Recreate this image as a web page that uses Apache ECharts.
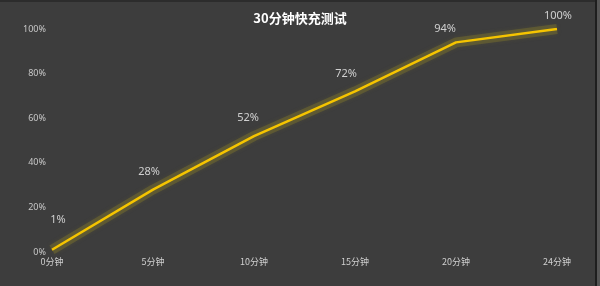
<!DOCTYPE html>
<html><head><meta charset="utf-8">
<script src="https://cdn.jsdelivr.net/npm/echarts@6/dist/echarts.min.js"></script>
<style>html,body{margin:0;padding:0;background:#3d3d3d;}#c{width:600px;height:286px;}</style>
</head><body><div id="c"></div>
<script>
const title = '30分钟快充测试';
const categories = ['0分钟','5分钟','10分钟','15分钟','20分钟','24分钟'];
const values = [1, 28, 52, 72, 94, 100];
const yTicks = [0, 20, 40, 60, 80, 100];
const labelOffsets = [[6,-12],[-4,0],[-6,0],[-9,0],[-11,4],[1,5]];

const chart = echarts.init(document.getElementById('c'));
chart.setOption({
  backgroundColor: '#3d3d3d',
  animation: false,
  title: { text: title, left: 'center', top: 7,
    textStyle: { color: '#ffffff', fontSize: 13, fontWeight: 'bold', fontFamily: 'Noto Sans CJK SC' } },
  grid: { left: 52, right: 43, top: 29, bottom: 34 },
  xAxis: { type: 'category', data: categories, boundaryGap: false,
    axisLine: { show: false }, axisTick: { show: false },
    axisLabel: { color: '#d0d0d0', fontSize: 9, margin: 5, fontFamily: 'Noto Sans CJK SC' } },
  yAxis: { type: 'value', min: 0, max: 100, interval: 20,
    axisLine: { show: false }, axisTick: { show: false }, splitLine: { show: false },
    axisLabel: { color: '#c8c8c8', fontSize: 9, margin: 6, formatter: v => yTicks.includes(v) ? v + '%' : '', fontFamily: 'Noto Sans' } },
  series: [{
    type: 'line', data: values, symbol: 'none', silent: true, z: 1,
    lineStyle: { color: 'rgba(125,115,45,0.45)', width: 10, join: 'round', cap: 'butt',
      shadowColor: 'rgba(125,115,45,0.4)', shadowBlur: 4 }
  }, {
    type: 'line', data: values.map((v, i) => ({ value: v,
      label: { offset: labelOffsets[i] } })),
    symbol: 'circle', symbolSize: 1, z: 2,
    itemStyle: { color: 'transparent', borderWidth: 0 },
    lineStyle: { color: '#f5c400', width: 2.5 },
    label: { show: true, position: 'top', distance: 12, color: '#d0d0d0', fontSize: 11,
      fontFamily: 'Noto Sans', formatter: p => p.value + '%' }
  }],
  graphic: [
    { type: 'rect', shape: { x: 0, y: 0, width: 600, height: 2 }, style: { fill: '#2c2c2c' } },
    { type: 'rect', shape: { x: 595, y: 0, width: 2, height: 286 }, style: { fill: '#1e1e1e' } },
    { type: 'rect', shape: { x: 597, y: 0, width: 3, height: 286 }, style: { fill: '#555555' } }
  ]
});
</script></body></html>
